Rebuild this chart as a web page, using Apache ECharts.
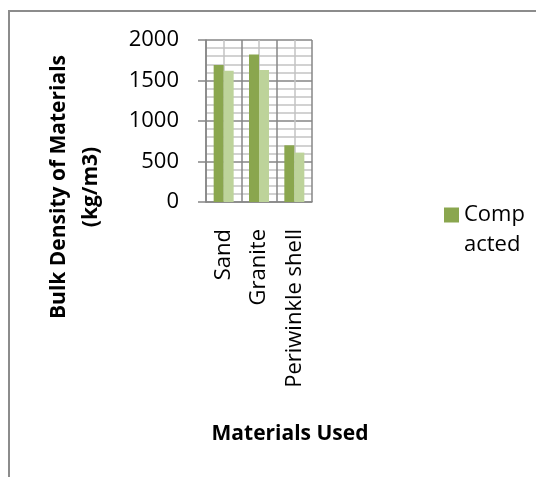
<!DOCTYPE html>
<html>
<head>
<meta charset="utf-8">
<script src="https://cdn.jsdelivr.net/npm/echarts@6/dist/echarts.min.js"></script>
<style>
  html, body { margin: 0; padding: 0; background: #fff; }
  #chart { width: 536px; height: 477px; }
</style>
</head>
<body>
<div id="chart"></div>
<script>
// data
var categories = ['Sand', 'Granite', 'Periwinkle shell'];
var compacted = [1690, 1820, 700];
var loose = [1620, 1630, 610];

var font = '"Open Sans", "Noto Sans", sans-serif';
var major = '#868686';
var minor = '#c3c3c3';

var chart = echarts.init(document.getElementById('chart'));
var option = {
	animation: false,
	grid: {
		left: 206,
		top: 40,
		width: 106,
		height: 162
	},
	legend: {
		data: ['Compacted'],
		left: 444,
		top: 170,
		padding: 0,
		itemWidth: 15,
		itemHeight: 15,
		icon: 'rect',
		// excel wraps the legend text in two lines, first one next to the box
		formatter: function(name) {
			return ' \nComp\nacted';
		},
		textStyle: {
			fontFamily: font,
			fontSize: 22,
			color: '#000',
			lineHeight: 30
		}
	},
	xAxis: [{
		type: 'category',
		data: categories,
		axisLine: { lineStyle: { color: major, width: 1.5 } },
		axisTick: { length: 8, lineStyle: { color: major, width: 1.5 } },
		splitLine: { show: true, lineStyle: { color: major, width: 1.5 } },
		axisLabel: {
			rotate: 90,
			margin: 27,
			interval: 0,
			fontFamily: font,
			fontSize: 22,
			color: '#000'
		}
	}, {
		type: 'value',
		min: 0,
		max: 3,
		interval: 1,
		axisLine: { show: false },
		axisTick: { show: false },
		axisLabel: { show: false },
		splitLine: { show: false },
		minorTick: { show: false, splitNumber: 2 },
		minorSplitLine: { show: true, lineStyle: { color: minor, width: 1.5 } }
	}],
	yAxis: {
		type: 'value',
		min: 0,
		max: 2000,
		interval: 500,
		axisLine: { show: true, lineStyle: { color: major, width: 1.5 } },
		axisTick: { show: true, length: 8, lineStyle: { color: major, width: 1.5 } },
		splitLine: { show: true, lineStyle: { color: major, width: 1.5 } },
		minorTick: { show: false, splitNumber: 5 },
		minorSplitLine: { show: true, lineStyle: { color: minor, width: 1.5 } },
		axisLabel: {
			margin: 27,
			fontFamily: font,
			fontSize: 22,
			color: '#000',
			formatter: function(v) {
				return String(v);
			}
		}
	},
	series: [{
		name: 'Compacted',
		type: 'bar',
		data: compacted,
		barWidth: 10,
		barGap: '0%',
		itemStyle: { color: '#8aa64e' }
	}, {
		name: 'Loose',
		type: 'bar',
		data: loose,
		barWidth: 10,
		barGap: '0%',
		itemStyle: { color: '#bdd39a' }
	}],
	graphic: [{
		type: 'rect',
		silent: true,
		z: -10,
		shape: { x: 9, y: 11, width: 700, height: 700 },
		style: { fill: 'none', stroke: '#8c8c8c', lineWidth: 2 }
	}, {
		type: 'text',
		x: 75,
		y: 187,
		rotation: Math.PI / 2,
		style: {
			text: 'Bulk Density of Materials\n(kg/m3)',
			fontFamily: font,
			fontWeight: 'bold',
			fontSize: 21,
			lineHeight: 32,
			align: 'center',
			verticalAlign: 'middle',
			fill: '#000'
		}
	}, {
		type: 'text',
		x: 290,
		y: 434,
		style: {
			text: 'Materials Used',
			fontFamily: font,
			fontWeight: 'bold',
			fontSize: 21,
			align: 'center',
			verticalAlign: 'middle',
			fill: '#000'
		}
	}]
};
chart.setOption(option);
</script>
</body>
</html>
